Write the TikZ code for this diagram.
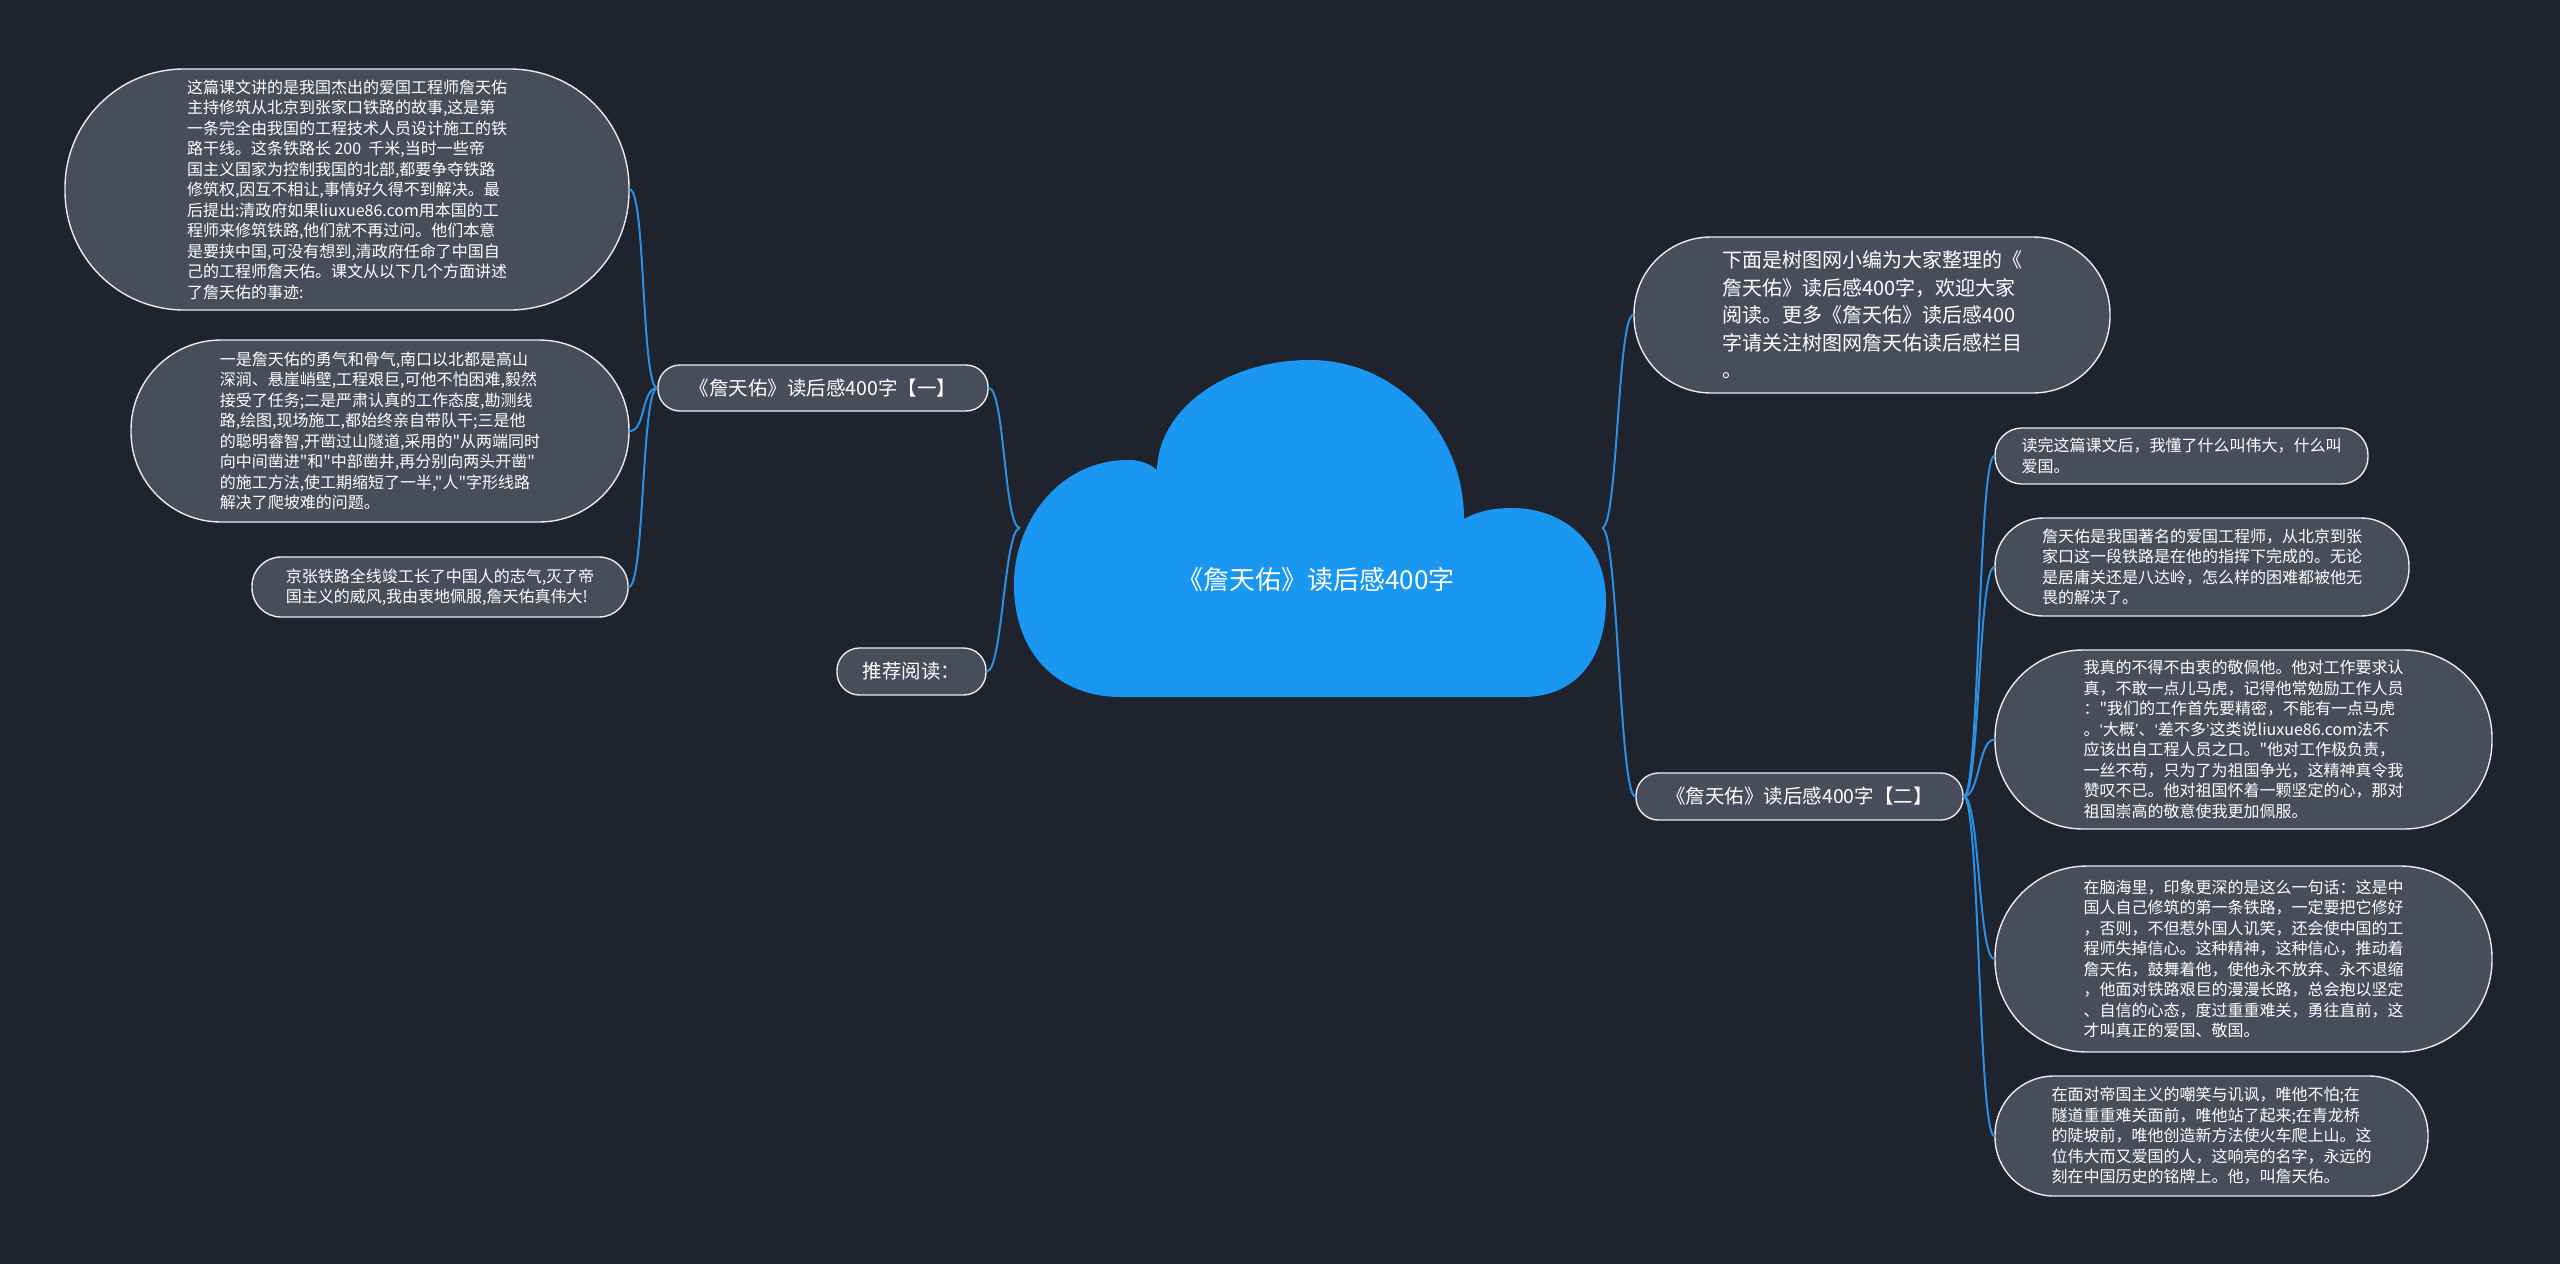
\documentclass[tikz,border=0pt]{standalone}
\usepackage{fontspec}
\setmainfont[Ligatures=TeXOff]{Noto Sans CJK SC}
\newfontfamily\latinq[Ligatures=TeXOff]{Liberation Sans}
\newcommand{\myLq}{{\latinq ‘}}
\newcommand{\myRq}{{\latinq ’}}
\definecolor{bgc}{HTML}{1F232E}
\definecolor{nodefill}{HTML}{474D5B}
\definecolor{cloudc}{HTML}{1A97F0}
\definecolor{linec}{HTML}{2B8FE3}
\begin{document}
\begin{tikzpicture}[x=1pt,y=-1pt,
  leaf/.style={draw=white!92!black, line width=1.4pt, fill=nodefill, text=white, align=left, inner sep=0pt, font=\fontsize{16}{20.5}\selectfont},
  branch/.style={leaf, font=\fontsize{19.5}{24}\selectfont},
  conn/.style={draw=linec, line width=2pt}]
\fill[bgc] (0,0) rectangle (2560,1264);
\useasboundingbox (0,0) rectangle (2560,1264);

% left side
\node[leaf, minimum width=564, minimum height=241, rounded corners=119] (L1) at (347,189.5) {这篇课文讲的是我国杰出的爱国工程师詹天佑\\主持修筑从北京到张家口铁路的故事,这是第\\一条完全由我国的工程技术人员设计施工的铁\\路干线。这条铁路长~200~~千米,当时一些帝\\国主义国家为控制我国的北部,都要争夺铁路\\修筑权,因互不相让,事情好久得不到解决。最\\后提出:清政府如果liuxue86.com用本国的工\\程师来修筑铁路,他们就不再过问。他们本意\\是要挟中国,可没有想到,清政府任命了中国自\\己的工程师詹天佑。课文从以下几个方面讲述\\了詹天佑的事迹:};
\node[leaf, minimum width=498, minimum height=182, rounded corners=90] (L2) at (380,431) {一是詹天佑的勇气和骨气,南口以北都是高山\\深涧、悬崖峭壁,工程艰巨,可他不怕困难,毅然\\接受了任务;二是严肃认真的工作态度,勘测线\\路,绘图,现场施工,都始终亲自带队干;三是他\\的聪明睿智,开凿过山隧道,采用的"从两端同时\\向中间凿进"和"中部凿井,再分别向两头开凿"\\的施工方法,使工期缩短了一半,"人"字形线路\\解决了爬坡难的问题。};
\node[leaf, minimum width=376, minimum height=60, rounded corners=29] (L3) at (440,587) {京张铁路全线竣工长了中国人的志气,灭了帝\\国主义的威风,我由衷地佩服,詹天佑真伟大!};
\node[branch, minimum width=330, minimum height=46, rounded corners=22] (B1) at (823,388) {《詹天佑》读后感400字【一】};
\node[branch, minimum width=149, minimum height=47, rounded corners=22.5] (B2) at (911.5,671.5) {推荐阅读：};

% right side
\node[leaf, font=\fontsize{20}{27.5}\selectfont, minimum width=476, minimum height=156, rounded corners=77] (RT) at (1872,315) {下面是树图网小编为大家整理的《\\詹天佑》读后感400字，欢迎大家\\阅读。更多《詹天佑》读后感400\\字请关注树图网詹天佑读后感栏目\\。};
\node[branch, minimum width=327, minimum height=47, rounded corners=22.5] (B3) at (1799.5,796.5) {《詹天佑》读后感400字【二】};
\node[leaf, minimum width=373, minimum height=56, rounded corners=27] (R1) at (2181.5,456) {读完这篇课文后，我懂了什么叫伟大，什么叫\\爱国。};
\node[leaf, minimum width=414, minimum height=98, rounded corners=48] (R2) at (2202,567) {詹天佑是我国著名的爱国工程师，从北京到张\\家口这一段铁路是在他的指挥下完成的。无论\\是居庸关还是八达岭，怎么样的困难都被他无\\畏的解决了。};
\node[leaf, minimum width=497, minimum height=179, rounded corners=88] (R3) at (2243.5,739.5) {我真的不得不由衷的敬佩他。他对工作要求认\\真，不敢一点儿马虎，记得他常勉励工作人员\\："我们的工作首先要精密，不能有一点马虎\\。\myLq 大概\myRq 、\myLq 差不多\myRq 这类说liuxue86.com法不\\应该出自工程人员之口。"他对工作极负责，\\一丝不苟，只为了为祖国争光，这精神真令我\\赞叹不已。他对祖国怀着一颗坚定的心，那对\\祖国崇高的敬意使我更加佩服。};
\node[leaf, minimum width=497, minimum height=186, rounded corners=92] (R4) at (2243.5,959) {在脑海里，印象更深的是这么一句话：这是中\\国人自己修筑的第一条铁路，一定要把它修好\\，否则，不但惹外国人讥笑，还会使中国的工\\程师失掉信心。这种精神，这种信心，推动着\\詹天佑，鼓舞着他，使他永不放弃、永不退缩\\，他面对铁路艰巨的漫漫长路，总会抱以坚定\\、自信的心态，度过重重难关，勇往直前，这\\才叫真正的爱国、敬国。};
\node[leaf, minimum width=433, minimum height=120, rounded corners=59] (R5) at (2211.5,1136) {在面对帝国主义的嘲笑与讥讽，唯他不怕;在\\隧道重重难关面前，唯他站了起来;在青龙桥\\的陡坡前，唯他创造新方法使火车爬上山。这\\位伟大而又爱国的人，这响亮的名字，永远的\\刻在中国历史的铭牌上。他，叫詹天佑。};

% connector anchors on the cloud
\coordinate (cL) at (1020,528);
\coordinate (cR) at (1602,528);

% connectors
\draw[conn] (cL) .. controls +(-16,0) and +(16,0) .. (B1.east);
\draw[conn] (cL) .. controls +(-16,0) and +(16,0) .. (B2.east);
\draw[conn] (cR) .. controls +(16,0) and +(-16,0) .. (RT.west);
\draw[conn] (cR) .. controls +(16,0) and +(-16,0) .. (B3.west);
\draw[conn] (B1.west) .. controls +(-16,0) and +(16,0) .. (L1.east);
\draw[conn] (B1.west) .. controls +(-16,0) and +(16,0) .. (L2.east);
\draw[conn] (B1.west) .. controls +(-16,0) and +(16,0) .. (L3.east);
\draw[conn] (B3.east) .. controls +(16,0) and +(-16,0) .. (R1.west);
\draw[conn] (B3.east) .. controls +(16,0) and +(-16,0) .. (R2.west);
\draw[conn] (B3.east) .. controls +(16,0) and +(-16,0) .. (R3.west);
\draw[conn] (B3.east) .. controls +(16,0) and +(-16,0) .. (R4.west);
\draw[conn] (B3.east) .. controls +(16,0) and +(-16,0) .. (R5.west);

% cloud
\fill[cloudc] (1121,697) -- (1523,697)
  .. controls (1575,697) and (1606,660) .. (1606,600)
  .. controls (1606,545) and (1565,508) .. (1512,508)
  .. controls (1492,508) and (1476,512) .. (1464,519)
  .. controls (1464,431) and (1395,360) .. (1310,360)
  .. controls (1225,360) and (1158,410) .. (1157,470)
  .. controls (1148,463) and (1140,460) .. (1128,460)
  .. controls (1060,460) and (1016,520) .. (1014,580)
  .. controls (1012,650) and (1055,697) .. (1121,697) -- cycle;
\node[text=white, font=\fontsize{26}{30}\selectfont, inner sep=0pt] (root) at (1316,580) {《詹天佑》读后感400字};
\end{tikzpicture}
\end{document}
